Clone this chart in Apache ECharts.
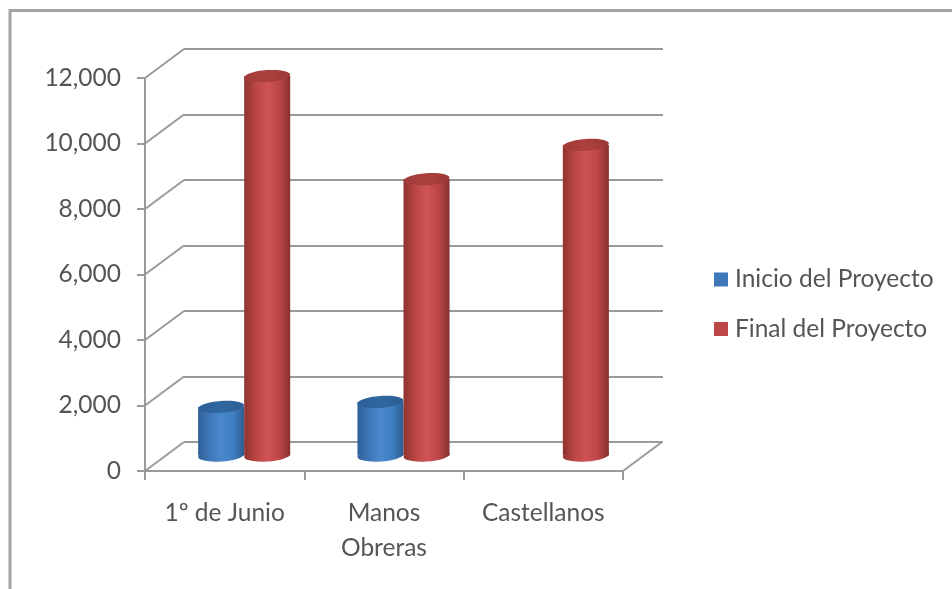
<!DOCTYPE html>
<html>
<head>
<meta charset="utf-8">
<style>html,body{margin:0;padding:0;background:#fff}#c{width:952px;height:589px}</style>
<script src="https://cdn.jsdelivr.net/npm/echarts@6/dist/echarts.min.js"></script>
</head>
<body>
<div id="c"></div>
<script>
const categories = ['1º de Junio', 'Manos\nObreras', 'Castellanos'];
const inicio = [1500, 1650, null];
const final = [11600, 8450, 9500];
const yTicks = [0, 2000, 4000, 6000, 8000, 10000, 12000];
const seriesNames = ['Inicio del Proyecto', 'Final del Proyecto'];

const DX = 39, DY = -29;         // wall depth
const GRID = '#9a9a9a', TXT = '#555555';
const FONT = 'Lato, "Open Sans", sans-serif';
const FS = 24.5;

function grad(stops) {
  return { type: 'linear', x: 0, y: 0, x2: 1, y2: 0,
    colorStops: stops.map((c, i) => ({ offset: i / (stops.length - 1), color: c })) };
}
const palettes = [
  { body: grad(['#2f5f97', '#3f78b8', '#4a87cb', '#4080c2', '#2c5c94']),
    top: grad(['#2d6099', '#2f679f', '#2c5f95']) },
  { body: grad(['#8e3331', '#b94644', '#cf5356', '#bd4746', '#873130']),
    top: grad(['#a23c39', '#ab403d', '#9c3936']) }
];

function cylinder(sign, pal) {
  return function (params, api) {
    const cat = api.value(0), val = api.value(1);
    const top = api.coord([cat, val]);
    const base = api.coord([cat, 0]);
    const band = api.size([1, 0])[0];
    const w = band * 0.289, rx = w / 2, ry = 6, tilt = 0.07;
    const cx = top[0] + DX / 2 + sign * w / 2;
    const yTop = top[1] + DY / 2 - 0.5, yBase = base[1] + DY / 2 - 1;
    return { type: 'group', children: [
      { type: 'ellipse', shape: { cx: cx, cy: yBase, rx: rx, ry: ry },
        rotation: tilt, originX: cx, originY: yBase, style: { fill: pal.body } },
      { type: 'rect', shape: { x: cx - rx, y: yTop, width: w, height: yBase - yTop }, style: { fill: pal.body } },
      { type: 'ellipse', shape: { cx: cx, cy: yTop, rx: rx, ry: ry },
        rotation: tilt, originX: cx, originY: yTop, style: { fill: pal.top } }
    ]};
  };
}
const rows = arr => arr.map((v, i) => [i, v]).filter(r => r[1] !== null);

const chart = echarts.init(document.getElementById('c'));
chart.setOption({
  animation: false,
  backgroundColor: '#ffffff',
  graphic: [{
    type: 'polyline', silent: true,
    shape: { points: [[10, 589], [10, 10.5], [952, 10.5]] },
    style: { stroke: '#a3a3a3', lineWidth: 3, fill: null }
  }],
  legend: {
    show: true, orient: 'vertical', left: 709, top: 262, itemGap: 24.5,
    itemWidth: 14, itemHeight: 14, icon: 'rect',
    data: seriesNames,
    textStyle: { fontFamily: FONT, fontSize: FS, color: TXT, padding: [0, 0, 0, 2] }
  },
  grid: [
    { left: 145, right: 329, top: 78, bottom: 118 },
    { left: 184, right: 289, top: 49, bottom: 147 }
  ],
  xAxis: [
    { type: 'category', gridIndex: 0, data: categories,
      axisLine: { lineStyle: { color: GRID, width: 2 } },
      axisTick: { show: true, length: 9, lineStyle: { color: GRID, width: 2 } },
      axisLabel: { fontFamily: FONT, fontSize: FS, color: TXT, margin: 25, lineHeight: 35, interval: 0 } },
    { type: 'category', gridIndex: 1, data: categories, show: false }
  ],
  yAxis: [
    { type: 'value', gridIndex: 0, min: 0, max: 12000, interval: 2000,
      axisLine: { show: true, lineStyle: { color: GRID, width: 2 } },
      axisTick: { show: true, length: 8, lineStyle: { color: GRID, width: 2 } },
      splitLine: { show: false },
      axisLabel: { fontFamily: FONT, fontSize: FS, color: TXT, margin: 24 } },
    { type: 'value', gridIndex: 1, min: 0, max: 12000, interval: 2000,
      axisLine: { show: false }, axisTick: { show: false }, axisLabel: { show: false },
      splitLine: { show: true, lineStyle: { color: GRID, width: 2 } } }
  ],
  series: [
    { type: 'custom', name: 'walls', xAxisIndex: 0, yAxisIndex: 0, silent: true, z: 1,
      data: yTicks.map(v => [0, v]), encode: { x: 0, y: 1 },
      renderItem: function (params, api) {
        const val = api.value(1);
        const cs = params.coordSys;
        const y = api.coord([0, val])[1];
        const line = x => ({ type: 'line',
          shape: { x1: x, y1: y, x2: x + DX, y2: y + DY },
          style: { stroke: GRID, lineWidth: 2 } });
        const kids = [line(cs.x)];
        if (val === 0) kids.push(line(cs.x + cs.width));
        return { type: 'group', children: kids };
      } },
    { type: 'custom', name: seriesNames[0], xAxisIndex: 0, yAxisIndex: 0, z: 3,
      itemStyle: { color: '#3f78b8' }, data: rows(inicio), encode: { x: 0, y: 1 },
      renderItem: cylinder(-1, palettes[0]) },
    { type: 'custom', name: seriesNames[1], xAxisIndex: 0, yAxisIndex: 0, z: 4,
      itemStyle: { color: '#bd4746' }, data: rows(final), encode: { x: 0, y: 1 },
      renderItem: cylinder(1, palettes[1]) }
  ]
});
</script>
</body>
</html>
